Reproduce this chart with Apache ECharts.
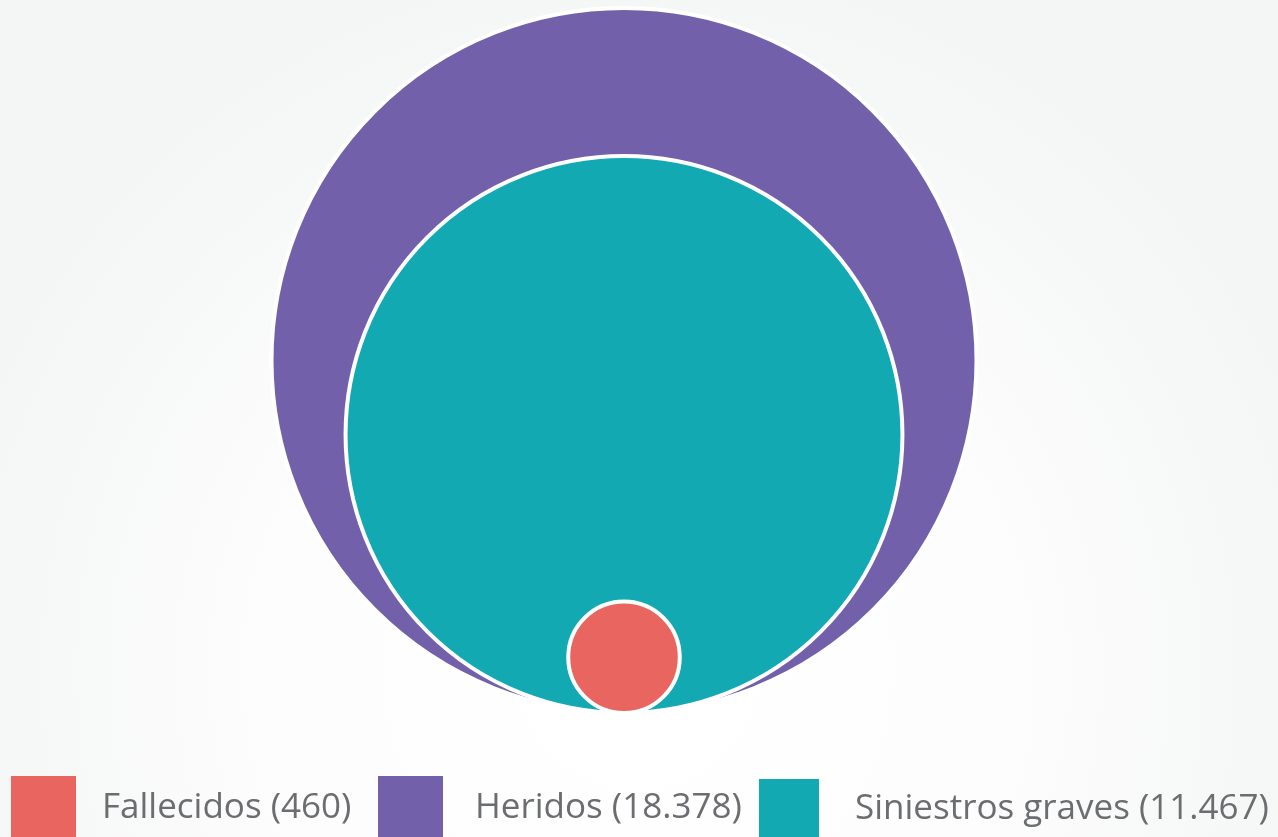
<!DOCTYPE html>
<html>
<head>
<meta charset="utf-8">
<script src="https://cdn.jsdelivr.net/npm/echarts@6/dist/echarts.min.js"></script>
<style>
html,body{margin:0;padding:0;width:1278px;height:837px;overflow:hidden;background:#fff;}
#chart{width:1278px;height:837px;}
</style>
</head>
<body>
<div id="chart"></div>
<script>
// Data
const categories = ['Fallecidos', 'Heridos', 'Siniestros graves'];
const values = [460, 18378, 11467];
const colors = ['#E9655F', '#7261AA', '#13A9B3'];

function fmt(n) {
  return String(n).replace(/\B(?=(\d{3})+(?!\d))/g, '.');
}

const maxRoot = Math.sqrt(Math.max.apply(null, values));

// draw larger circles first
const order = categories.map((c, i) => i).sort((a, b) => values[b] - values[a]);

const series = order.map((i, k) => ({
  type: 'custom',
  name: categories[i],
  z: 2 + k,
  itemStyle: { color: colors[i] },
  data: [[0, values[i]]],
  renderItem: function (params, api) {
    const v = api.value(1);
    const r = Math.sqrt(v);
    const c = api.coord([0, r]);
    const rp = api.size([0, r])[1];
    return {
      type: 'circle',
      shape: { cx: c[0], cy: c[1], r: rp },
      style: { fill: api.visual('color'), stroke: '#ffffff', lineWidth: 4 }
    };
  }
}));

const legendCfg = [
  { left: 11, top: 776, size: 65, pad: 21 },
  { left: 378, top: 776, size: 65, pad: 27 },
  { left: 759, top: 779, size: 60, pad: 31 }
];

const legends = categories.map((name, i) => ({
  data: [{ name: name, icon: 'rect' }],
  left: legendCfg[i].left,
  top: legendCfg[i].top,
  padding: 0,
  itemWidth: legendCfg[i].size,
  itemHeight: legendCfg[i].size,
  selectedMode: false,
  formatter: function (n) { return n + ' (' + fmt(values[categories.indexOf(n)]) + ')'; },
  textStyle: {
    fontFamily: 'Open Sans',
    fontSize: 35,
    color: '#6c6d70',
    padding: [0, 0, 0, legendCfg[i].pad]
  }
}));

const chart = echarts.init(document.getElementById('chart'), null, { renderer: 'canvas' });
chart.setOption({
  animation: false,
  backgroundColor: {
    type: 'radial', x: 0.5, y: 0.8, r: 0.85,
    colorStops: [
      { offset: 0, color: '#ffffff' },
      { offset: 0.5, color: '#fdfdfd' },
      { offset: 1, color: '#f4f5f5' }
    ]
  },
  grid: { left: 0, right: 30, top: 8, bottom: 124 },
  xAxis: { type: 'value', min: -1, max: 1, show: false },
  yAxis: { type: 'value', min: 0, max: 2 * maxRoot, show: false },
  legend: legends,
  series: series
});
</script>
</body>
</html>
